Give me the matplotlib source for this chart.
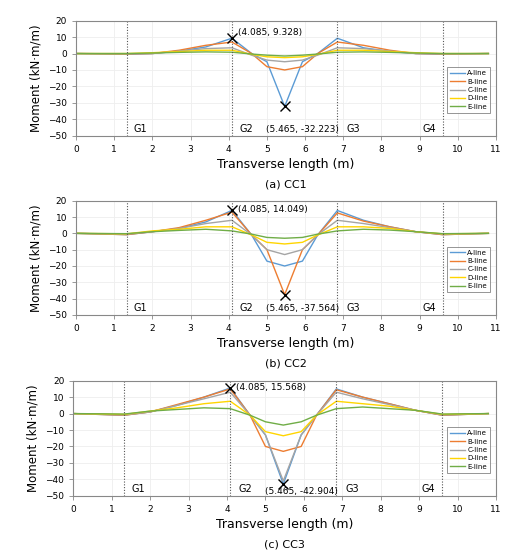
import numpy as np
import matplotlib
matplotlib.use("Agg")
import matplotlib.pyplot as plt

# ---------------- DATA ---------------- #
x = [0, 1.325, 2.0, 2.7, 3.4, 4.085, 4.6, 5.0, 5.465, 5.93, 6.33, 6.845, 7.53, 8.22, 8.9, 9.605, 10.8]

cc1 = {
    "A-line": [0, -0.5, 0, 1.5, 4, 9.328, 0, -5, -32.223, -5, 0, 9.3, 3.5, 1.2, 0, -0.5, 0],
    "B-line": [0, -0.3, 0, 2, 5, 7, 0, -8, -10, -8, 0, 7, 5, 2, 0, -0.3, 0],
    "C-line": [0, -0.2, 0, 1.5, 3, 3.5, -1, -4, -5, -4, -1, 3.5, 3, 1.5, 0, -0.2, 0],
    "D-line": [0, 0, 0.5, 1.2, 2, 2, -0.5, -2, -2.5, -2, -0.5, 2, 2, 1.2, 0.5, 0, 0],
    "E-line": [0, 0, 0.3, 0.7, 1, 0.8, -0.3, -1, -1.5, -1, -0.3, 0.8, 1, 0.7, 0.3, 0, 0],
}
cc2 = {
    "A-line": [0, -0.8, 1, 3, 7, 14.049, -1, -17, -20, -17, -1, 14, 8, 4, 1, -0.8, 0],
    "B-line": [0, -0.8, 1, 3.5, 8, 13, -1, -10, -37.564, -10, -1, 12.5, 7.5, 4, 1, -0.8, 0],
    "C-line": [0, -0.5, 1, 3, 6, 8, -1, -10, -13, -10, -1, 8, 6, 3.5, 1, -0.5, 0],
    "D-line": [0, -0.3, 1.5, 2.5, 4, 4, -1, -5.5, -6.5, -5.5, -1, 4, 4, 3, 1, -0.3, 0],
    "E-line": [0, -0.2, 1, 1.8, 2.5, 1.5, -0.5, -2.5, -3, -2.5, -0.5, 1.5, 2.5, 2, 1, -0.2, 0],
}
cc3 = {
    "A-line": [0, -1, 1, 5, 10, 15.568, -1, -13, -42.904, -13, -1, 15, 10, 6, 2, -1, 0],
    "B-line": [0, -1, 1, 5.5, 10, 15, -1, -20, -23, -20, -1, 14.5, 10, 6, 2, -1, 0],
    "C-line": [0, -0.8, 1, 5, 9, 13, -1, -13, -41, -13, -1, 13, 9, 5.5, 2, -0.8, 0],
    "D-line": [0, -0.5, 1.5, 3.5, 6, 7.5, -1, -11, -13.5, -11, -1, 7.5, 6, 4.5, 2, -0.5, 0],
    "E-line": [0, -0.3, 1.5, 2.5, 3.5, 3, -1, -5, -7, -5, -1, 3, 4, 3, 2, -0.3, 0],
}

# marked points (max / min) for each case
peaks = [(4.085, 9.328), (4.085, 14.049), (4.085, 15.568)]
mins = [(5.465, -32.223), (5.465, -37.564), (5.465, -42.904)]
captions = ["(a) CC1", "(b) CC2", "(c) CC3"]

girders = [1.325, 4.085, 6.845, 9.605]
girder_labels = ["G1", "G2", "G3", "G4"]
girder_text_x = [1.69, 4.47, 7.25, 9.25]

colors = {
    "A-line": "#5B9BD5",
    "B-line": "#ED7D31",
    "C-line": "#A5A5A5",
    "D-line": "#FFD500",
    "E-line": "#70AD47",
}

# ---------------- PLOTTING ---------------- #
fig = plt.figure(figsize=(5.22, 5.57), dpi=100)

# [left, bottom, width, height] for each panel
boxes = [
    [0.1456, 0.7564, 0.8046, 0.2065],
    [0.1456, 0.4345, 0.8046, 0.2052],
    [0.1404, 0.1100, 0.8098, 0.2065],
]
min_text_y = [-46, -46, -47.5]
peak_text_dy = [3.5, 0.3, 0.0]

for i, data in enumerate([cc1, cc2, cc3]):
    ax = fig.add_axes(boxes[i])
    for name, vals in data.items():
        ax.plot(x, vals, color=colors[name], lw=1.0, label=name)

    # girder positions
    for gx, gl, tx in zip(girders, girder_labels, girder_text_x):
        ax.axvline(gx, color="#555555", ls=(0, (1, 1.5)), lw=0.8)
        ax.text(tx, -46, gl, ha="center", va="center", fontsize=7)

    # max / min markers
    px, py = peaks[i]
    mx, my = mins[i]
    ax.plot([px, mx], [py, my], "x", color="black", ms=6.5, mew=1.0)
    ax.text(px + 0.15, py + peak_text_dy[i], "(%.3f, %.3f)" % (px, py),
            fontsize=6.5, va="center")
    ax.text(5.93, min_text_y[i], "(%.3f, %.3f)" % (mx, my), fontsize=6.5,
            ha="center", va="center")

    ax.set_xlim(0, 11)
    ax.set_ylim(-50, 20)
    ax.set_xticks(range(0, 12))
    ax.set_yticks(range(-50, 21, 10))
    ax.tick_params(labelsize=6.5, length=3, width=0.6, color="#888888")
    ax.grid(True, color="#EEEEEE", lw=0.6)
    ax.set_axisbelow(True)
    for sp in ax.spines.values():
        sp.set_color("#888888")
        sp.set_linewidth(0.8)

    ax.set_ylabel("Moment (kN·m/m)", fontsize=8.5)
    ax.set_xlabel("Transverse length (m)", fontsize=9, labelpad=3)

    leg = ax.legend(loc="lower right", bbox_to_anchor=(0.995, 0.17), fontsize=5,
                    frameon=True, fancybox=False, handlelength=2.2,
                    labelspacing=0.35, borderpad=0.4, handletextpad=0.3)
    leg.get_frame().set_edgecolor("#666666")
    leg.get_frame().set_linewidth(0.6)

    ax.text(0.5, -0.425, captions[i], transform=ax.transAxes, ha="center",
            va="center", fontsize=8)

plt.savefig("out.png", dpi=100)
